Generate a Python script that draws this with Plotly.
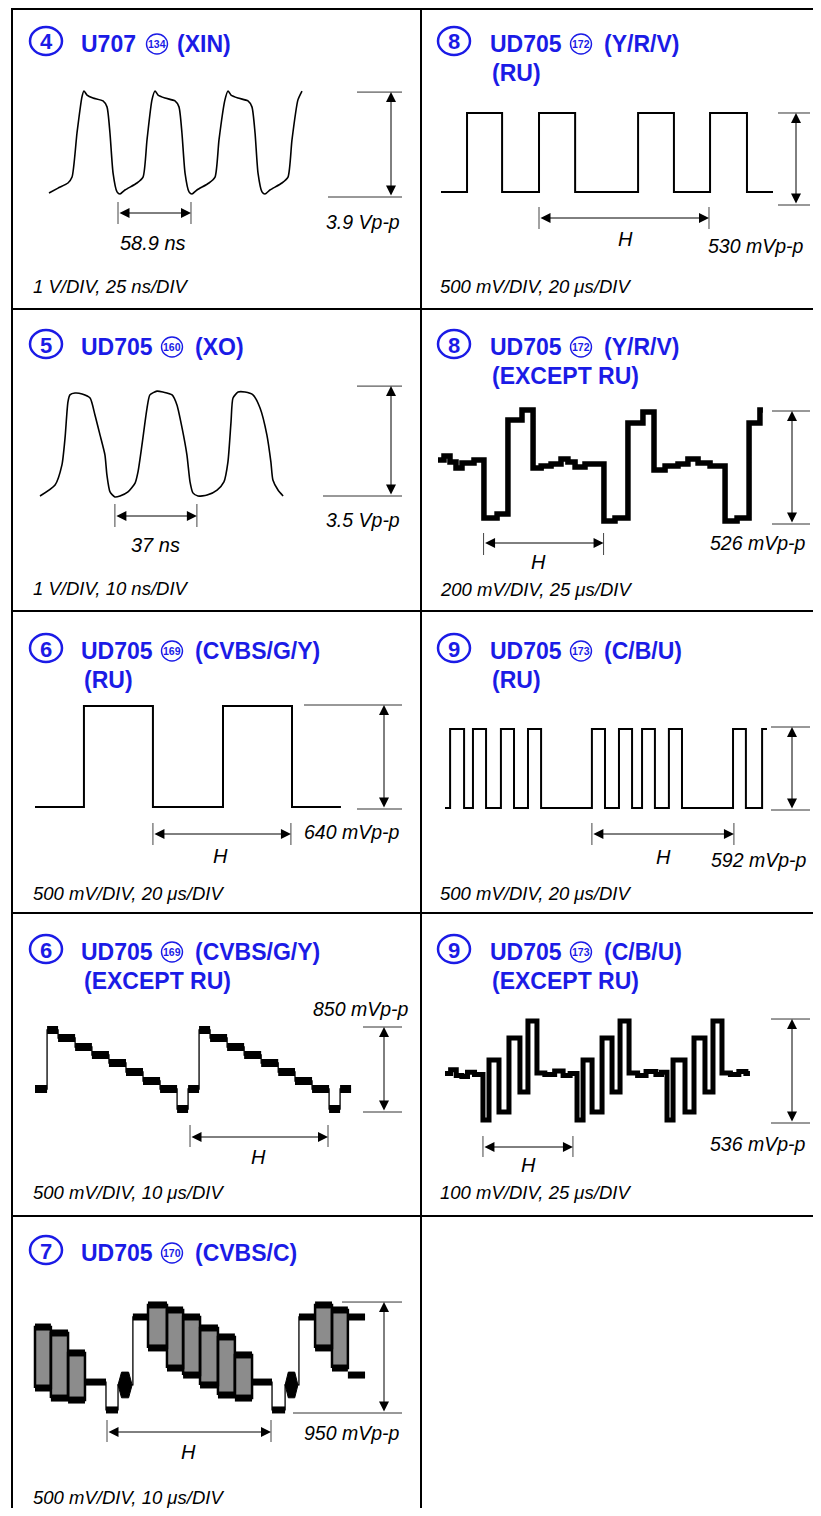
import plotly.graph_objects as go

# page body keeps an 8 px margin, so the figure sits 8 px in from the window edge
OFF = 8
FW, FH = 813, 1500
BLUE = "#1b1be6"
INK = "black"
FONT = "Liberation Sans, Arial, Helvetica, sans-serif"

# ---------------- waveform data ----------------
# (4) U707 pin 134 (XIN): time [ns], level [V]
xin_t = [0, 7.3, 15.3, 18.6, 22.6, 26.6, 28.2, 30.7, 35.5, 43.6,
         46.8, 49.2, 51.7, 54.9, 57.3, 61.3, 71.0, 75.9, 79.1, 83.1,
         85.6, 88.0, 93.6, 101.7, 104.9, 107.3, 109.8, 113.0, 115.4, 119.4,
         129.1, 134.0, 137.2, 142.0, 144.5, 146.9, 152.5, 160.6, 163.8, 166.3,
         168.7, 171.9, 174.3, 178.3, 188.0, 192.9, 196.1, 200.9, 204.2]
xin_v = [0.15, 0.33, 0.52, 0.74, 2.38, 3.72, 3.94, 3.79, 3.68, 3.57,
         3.35, 2.38, 0.89, 0.19, 0.11, 0.26, 0.52, 0.74, 2.12, 3.61,
         3.94, 3.79, 3.68, 3.57, 3.35, 2.38, 0.89, 0.19, 0.11, 0.26,
         0.52, 0.74, 2.12, 3.61, 3.94, 3.79, 3.68, 3.57, 3.35, 2.38,
         0.89, 0.19, 0.11, 0.26, 0.52, 0.74, 2.12, 3.61, 3.94]

# (5) UD705 pin 160 (XO): time [ns], level [V]
xo_t = [0, 6.8, 9.9, 11.3, 12.6, 13.5, 15.8, 19.0, 22.6, 24.8,
        27.1, 29.3, 30.2, 31.6, 33.8, 36.1, 39.7, 42.9, 44.2, 46.0,
        48.3, 49.6, 52.8, 55.5, 59.6, 61.8, 64.1, 66.3, 67.7, 69.0,
        71.3, 75.4, 79.9, 83.0, 84.8, 86.2, 87.1, 89.4, 92.5, 96.1,
        99.3, 102.4, 104.2, 105.1, 107.4, 109.7]
xo_v = [0, 0.35, 0.99, 1.85, 2.99, 3.22, 3.28, 3.25, 3.12, 2.58,
        1.94, 1.31, 0.67, 0.13, -0.03, 0, 0.13, 0.41, 0.76, 1.62,
        2.80, 3.22, 3.34, 3.31, 3.22, 2.90, 2.17, 1.31, 0.45, 0.10,
        0, 0.03, 0.19, 0.45, 1.08, 2.36, 3.12, 3.31, 3.31, 3.22,
        2.80, 1.94, 1.08, 0.51, 0.19, 0]

# (8) UD705 pin 172 (Y/R/V) RU: step points, time [us], level [mV]
yrv_ru_t = [0, 9.8, 23.0, 36.9, 50.5, 74.2, 87.7, 101.3, 115.2, 125.0]
yrv_ru_v = [75, 530, 75, 530, 75, 530, 75, 530, 75, 75]

# (8) UD705 pin 172 (Y/R/V) except RU
yrv_t = [0, 3.2, 6.4, 9.6, 12.8, 19.2, 24.5, 31.5, 37.3, 44.8,
         50.7, 55.0, 60.3, 65.6, 69.3, 73.1, 78.4, 88.5, 94.4, 101.3,
         109.3, 115.2, 121.1, 128.0, 133.3, 138.7, 145.1, 153.1, 159.5, 165.9,
         171.7, 173.3]
yrv_v = [298, 317, 289, 261, 284, 298, 28, 47, 484, 531,
         261, 270, 279, 303, 289, 265, 279, 14, 28, 470,
         521, 251, 270, 279, 303, 284, 270, 14, 28, 470,
         531, 531]

# (6) UD705 pin 169 (CVBS/G/Y) RU
cvbs_ru_t = [0, 22.7, 54.7, 87.2, 119.2, 141.9]
cvbs_ru_v = [12, 634, 12, 634, 12, 12]

# (9) UD705 pin 173 (C/B/U) RU
cbu_ru_t = [0, 2.3, 8.6, 12.6, 18.5, 25.2, 31.1, 37.4, 43.3, 66.2,
            72.1, 78.4, 84.3, 88.8, 94.6, 100.9, 106.8, 129.8, 135.6, 142.9, 145.1]
cbu_ru_v = [14, 578, 14, 578, 14, 578, 14, 578, 14, 578,
            14, 578, 14, 578, 14, 578, 14, 578, 14, 578, 578]

# (6) UD705 pin 169 except RU: staircase edges [us] and level of each step [mV]
stair_edges = [0, 5.6, 10.7, 18.6, 26.4, 34.3, 42.2, 50.1, 58.0, 65.9, 71.0,
               76.1, 81.2, 89.1, 97.0, 104.9, 112.8, 120.6, 128.5, 136.4, 141.5, 146.6]
stair_levels = [230, 820, 740, 650, 570, 490, 400, 310, 230, 30,
                230, 820, 740, 650, 570, 490, 400, 310, 230, 30, 230]

# (9) UD705 pin 173 except RU
cbu_t = [0, 4, 8, 12, 16, 21, 27.0, 31.3, 38.4, 45.5,
         53.3, 59.0, 65.4, 71, 78, 84, 89, 93.9, 98.2, 104.6,
         111.7, 118.8, 124.5, 130.9, 137, 143, 150, 154, 157.9, 162.2,
         170.7, 177.1, 184.9, 190.6, 197.0, 203, 209, 214, 216.9]
cbu_v = [255, 275, 245, 240, 262, 250, 15, 325, 57, 438,
         160, 526, 258, 250, 268, 245, 255, 15, 325, 57,
         438, 160, 526, 258, 245, 265, 250, 262, 15, 325,
         57, 438, 160, 526, 258, 250, 265, 255, 255]

# (7) UD705 pin 170 (CVBS/C): colour bars with chroma envelope
bar_t0 = [0, 6.2, 12.9, 44.1, 51.5, 57.8, 64.4, 71.4, 78.0, 109.3, 115.9]
bar_t1 = [6.2, 12.9, 19.5, 51.5, 57.8, 64.4, 71.4, 78.0, 84.7, 115.9, 122.1]
bar_top = [736, 685, 514, 925, 882, 822, 728, 651, 497, 925, 882]
bar_bot = [214, 128, 111, 557, 385, 325, 240, 154, 128, 557, 385]
blank_t0 = [19.5, 27.7, 38.2, 84.7, 92.5, 103.0, 122.1, 122.1]
blank_t1 = [27.7, 32.4, 44.1, 92.5, 97.6, 109.3, 128.8, 128.8]
blank_v = [265, 26, 822, 265, 26, 822, 822, 325]
burst_t0 = [32.4, 97.6]
burst_t1 = [37.9, 102.6]
burst_mid = [240, 240]
burst_half = [110, 110]
luma_t = [19.5, 27.7, 32.4, 38.2, 44.1, None, 84.7, 92.5, 97.6, 103.0, 109.3]
luma_v = [265, 26, 240, 822, 822, None, 265, 26, 240, 822, 822]

# ---------------- panel layout (window pixels) ----------------
LEFT = dict(circ_x=46, chip_x=79, pin_x=172, sig_x=193, line2_x=82, scope_x=31)
RIGHT = dict(circ_x=454, chip_x=488, pin_x=581, sig_x=602, line2_x=490, scope_x=438)

panels = [
    dict(LEFT, key="xin", cell=(12, 421, 8, 309), org=(49, 197), scale=(1.239, 26.9),
         num="4", chip="U707", pin="134", sig="(XIN)", line2=None, ty=44, pin_x=157, sig_x=175,
         h0=55.7, hlen=58.9, hlab="58.9 ns", tick=(202, 224, 213), hlab_xy=(153, 243),
         vpp=3.9, vlab="3.9 Vp-p", vtop=(357, 402), vbot=(328, 402), varrow=391, vlab_xy=(402, 222),
         scope="1 V/DIV, 25 ns/DIV", scope_y=287),
    dict(LEFT, key="xo", cell=(12, 421, 309, 611), org=(40, 496), scale=(2.216, 31.4),
         num="5", chip="UD705", pin="160", sig="(XO)", line2=None, ty=347,
         h0=33.8, hlen=37, hlab="37 ns", tick=(504, 527, 516), hlab_xy=(155, 545),
         vpp=3.5, vlab="3.5 Vp-p", vtop=(357, 402), vbot=(323, 402), varrow=391, vlab_xy=(402, 520),
         scope="1 V/DIV, 10 ns/DIV", scope_y=588),
    dict(RIGHT, key="yrv_ru", cell=(421, 821, 8, 309), org=(441, 205), scale=(2.656, 0.1736),
         num="8", chip="UD705", pin="172", sig="(Y/R/V)", line2="(RU)", ty=44,
         h0=36.9, hlen=64, hlab="H", tick=(207, 229, 218), hlab_xy=(625, 239),
         vpp=530, vlab="530 mVp-p", vtop=(778, 810), vbot=(778, 810), varrow=796, vlab_xy=(806, 246),
         scope="500 mV/DIV, 20 μs/DIV", scope_y=286),
    dict(RIGHT, key="yrv", cell=(421, 821, 309, 611), org=(438, 524), scale=(1.875, 0.2148),
         num="8", chip="UD705", pin="172", sig="(Y/R/V)", line2="(EXCEPT RU)", ty=347,
         h0=24.3, hlen=64, hlab="H", tick=(533, 555, 543), hlab_xy=(538, 562),
         vpp=526, vlab="526 mVp-p", vtop=(772, 810), vbot=(772, 810), varrow=792, vlab_xy=(808, 543),
         scope="200 mV/DIV, 25 μs/DIV", scope_y=589),
    dict(LEFT, key="cvbs_ru", cell=(12, 421, 611, 913), org=(35, 809), scale=(2.156, 0.1625),
         num="6", chip="UD705", pin="169", sig="(CVBS/G/Y)", line2="(RU)", ty=651,
         h0=54.7, hlen=64, hlab="H", tick=(823, 845, 834), hlab_xy=(220, 856),
         vpp=640, vlab="640 mVp-p", vtop=(304, 402), vbot=(357, 402), varrow=384, vlab_xy=(402, 832),
         scope="500 mV/DIV, 20 μs/DIV", scope_y=893),
    dict(RIGHT, key="cbu_ru", cell=(421, 821, 611, 913), org=(445, 810), scale=(2.219, 0.1402),
         num="9", chip="UD705", pin="173", sig="(C/B/U)", line2="(RU)", ty=651,
         h0=66.2, hlen=64, hlab="H", tick=(823, 845, 834), hlab_xy=(663, 857),
         vpp=592, vlab="592 mVp-p", vtop=(771, 810), vbot=(771, 810), varrow=792, vlab_xy=(809, 860),
         scope="500 mV/DIV, 20 μs/DIV", scope_y=893),
    dict(LEFT, key="stair", cell=(12, 421, 913, 1216), org=(35, 1112), scale=(2.156, 0.1),
         num="6", chip="UD705", pin="169", sig="(CVBS/G/Y)", line2="(EXCEPT RU)", ty=952,
         h0=71.9, hlen=64, hlab="H", tick=(1125, 1147, 1137), hlab_xy=(258, 1157),
         vpp=850, vlab="850 mVp-p", vtop=(363, 402), vbot=(363, 402), varrow=384, vlab_xy=(411, 1009),
         scope="500 mV/DIV, 10 μs/DIV", scope_y=1192),
    dict(RIGHT, key="cbu", cell=(421, 821, 913, 1216), org=(445, 1123), scale=(1.406, 0.194),
         num="9", chip="UD705", pin="173", sig="(C/B/U)", line2="(EXCEPT RU)", ty=952,
         h0=27.0, hlen=64, hlab="H", tick=(1136, 1157, 1147), hlab_xy=(528, 1165),
         vpp=536, vlab="536 mVp-p", vtop=(771, 810), vbot=(771, 810), varrow=792, vlab_xy=(808, 1144),
         scope="100 mV/DIV, 25 μs/DIV", scope_y=1192),
    dict(LEFT, key="bars", cell=(12, 421, 1216, 1508), org=(35, 1413), scale=(2.5625, 0.1168),
         num="7", chip="UD705", pin="170", sig="(CVBS/C)", line2=None, ty=1253,
         h0=28.1, hlen=64, hlab="H", tick=(1420, 1442, 1432), hlab_xy=(188, 1452),
         vpp=950, vlab="950 mVp-p", vtop=(342, 402), vbot=(293, 402), varrow=384, vlab_xy=(402, 1433),
         scope="500 mV/DIV, 10 μs/DIV", scope_y=1497),
]


def px(x):
    return (x - OFF) / FW


def py(y):
    return 1 - (y - OFF) / FH


def line(x, y, width, shape="linear"):
    return go.Scatter(x=x, y=y, mode="lines", hoverinfo="skip", showlegend=False,
                      line=dict(color=INK, width=width, shape=shape))


def segments(t0s, t1s, vs):
    xs, ys = [], []
    for a, b, v in zip(t0s, t1s, vs):
        xs += [a, b, None]
        ys += [v, v, None]
    return xs, ys


def wave_traces(key):
    if key == "xin":
        tr = line(xin_t, xin_v, 1.6, "spline")
        tr.line.smoothing = 0.6
        return [tr]
    if key == "xo":
        tr = line(xo_t, xo_v, 1.6, "spline")
        tr.line.smoothing = 0.6
        return [tr]
    if key == "yrv_ru":
        return [line(yrv_ru_t, yrv_ru_v, 2, "hv")]
    if key == "yrv":
        return [line(yrv_t, yrv_v, 5.5, "hv")]
    if key == "cvbs_ru":
        return [line(cvbs_ru_t, cvbs_ru_v, 2, "hv")]
    if key == "cbu_ru":
        return [line(cbu_ru_t, cbu_ru_v, 2, "hv")]
    if key == "stair":
        thin = line(stair_edges, stair_levels + [stair_levels[-1]], 1.3, "hv")
        sx, sy = segments(stair_edges[:-1], stair_edges[1:], stair_levels)
        return [thin, line(sx, sy, 8)]
    if key == "cbu":
        return [line(cbu_t, cbu_v, 5, "hv")]
    if key == "bars":
        bx_, by_ = [], []
        for a, b, top, bot in zip(bar_t0, bar_t1, bar_top, bar_bot):
            bx_ += [a, b, b, a, a, None]
            by_ += [bot, bot, top, top, bot, None]
        box = go.Scatter(x=bx_, y=by_, mode="lines", fill="toself", fillcolor="#8c8c8c",
                         line=dict(color=INK, width=2.5), hoverinfo="skip", showlegend=False)
        bx, by = [], []
        for a, b, m, h in zip(burst_t0, burst_t1, burst_mid, burst_half):
            d = (b - a) * 0.25
            bx += [a, a + d, b - d, b, b - d, a + d, a, None]
            by += [m, m + h, m + h, m, m - h, m - h, m, None]
        burst = go.Scatter(x=bx, y=by, mode="lines", fill="toself", fillcolor=INK,
                           line=dict(color=INK, width=1), hoverinfo="skip", showlegend=False)
        tx, ty = segments(bar_t0, bar_t1, bar_top)
        ux, uy = segments(bar_t0, bar_t1, bar_bot)
        kx, ky = segments(blank_t0, blank_t1, blank_v)
        return [box, line(luma_t, luma_v, 1.3, "hv"), burst,
                line(tx, ty, 7), line(ux, uy, 7), line(kx, ky, 7)]
    return []


def hseg(x0, x1, y, width=1, color="#222"):
    return dict(type="line", xref="paper", yref="paper", x0=px(x0), x1=px(x1),
                y0=py(y), y1=py(y), line=dict(color=color, width=width))


def vseg(x, y0, y1, width=1, color="#222"):
    return dict(type="line", xref="paper", yref="paper", x0=px(x), x1=px(x),
                y0=py(y0), y1=py(y1), line=dict(color=color, width=width))


def ellipse(cx, cy, rx, ry, width, color):
    return dict(type="circle", xref="paper", yref="paper",
                x0=px(cx - rx), x1=px(cx + rx), y0=py(cy + ry), y1=py(cy - ry),
                line=dict(color=color, width=width))


def text(x, y, s, size, anchor="left", color=INK):
    return dict(x=px(x), y=py(y), xref="paper", yref="paper", text=s, showarrow=False,
                xanchor=anchor, yanchor="middle", font=dict(family=FONT, size=size, color=color))


def arrow(xh, yh, dx, dy):
    return dict(x=px(xh), y=py(yh), xref="paper", yref="paper", ax=dx, ay=dy,
                axref="pixel", ayref="pixel", text="", showarrow=True,
                arrowhead=2, startarrowhead=2, arrowside="end+start",
                arrowsize=2, startarrowsize=2, arrowwidth=1, arrowcolor=INK)


fig = go.Figure()
axes, shapes, annos = {}, [], []

for n, p in enumerate(panels, start=1):
    sfx = "" if n == 1 else str(n)
    x0, x1, y0, y1 = p["cell"]
    ox, oy = p["org"]
    sx, sy = p["scale"]
    axes["xaxis" + sfx] = dict(domain=[px(x0), px(x1)], range=[(x0 - ox) / sx, (x1 - ox) / sx],
                               visible=False, anchor="y" + sfx, fixedrange=True)
    axes["yaxis" + sfx] = dict(domain=[py(y1), py(y0)], range=[(oy - y1) / sy, (oy - y0) / sy],
                               visible=False, anchor="x" + sfx, fixedrange=True)
    for tr in wave_traces(p["key"]):
        tr.update(xaxis="x" + sfx, yaxis="y" + sfx)
        fig.add_trace(tr)

    # title: circled panel number, chip, circled pin, signal
    ty = p["ty"]
    shapes.append(ellipse(p["circ_x"], ty - 3, 16, 14, 2.5, BLUE))
    annos.append(text(p["circ_x"], ty - 2, "<b>%s</b>" % p["num"], 22, "center", BLUE))
    annos.append(text(p["chip_x"], ty, "<b>%s</b>" % p["chip"], 23, "left", BLUE))
    shapes.append(ellipse(p["pin_x"], ty, 10.5, 10, 1.4, BLUE))
    annos.append(text(p["pin_x"], ty, "<b>%s</b>" % p["pin"], 10.5, "center", BLUE))
    annos.append(text(p["sig_x"], ty, "<b>%s</b>" % p["sig"], 23, "left", BLUE))
    if p["line2"]:
        annos.append(text(p["line2_x"], ty + 29, "<b>%s</b>" % p["line2"], 23, "left", BLUE))

    # horizontal period marker
    xa = ox + p["h0"] * sx
    xb = ox + (p["h0"] + p["hlen"]) * sx
    t_top, t_bot, t_mid = p["tick"]
    shapes.append(vseg(xa, t_top, t_bot, 1, "#444"))
    shapes.append(vseg(xb, t_top, t_bot, 1, "#444"))
    annos.append(arrow(xb, t_mid, xa - xb, 0))
    annos.append(text(p["hlab_xy"][0], p["hlab_xy"][1], "<i>%s</i>" % p["hlab"], 20, "center"))

    # peak-to-peak marker
    yb = oy
    yt = oy - p["vpp"] * sy
    shapes.append(hseg(p["vtop"][0], p["vtop"][1], yt, 1, "#333"))
    shapes.append(hseg(p["vbot"][0], p["vbot"][1], yb, 1, "#333"))
    annos.append(arrow(p["varrow"], yt, 0, yb - yt))
    annos.append(text(p["vlab_xy"][0], p["vlab_xy"][1], "<i>%s</i>" % p["vlab"], 19.5, "right"))

    annos.append(text(p["scope_x"], p["scope_y"], "<i>%s</i>" % p["scope"], 18.5, "left"))

# table frame
for yy in [9, 309, 611, 913, 1216]:
    shapes.append(hseg(12, 821, yy, 2, INK))
shapes.append(vseg(12, 8, 1508, 2, INK))
shapes.append(vseg(421, 8, 1508, 2, INK))

fig.update_layout(width=FW, height=FH, margin=dict(l=0, r=0, t=0, b=0),
                  paper_bgcolor="white", plot_bgcolor="white", showlegend=False,
                  shapes=shapes, annotations=annos, **axes)

fig.write_html("out.html")
